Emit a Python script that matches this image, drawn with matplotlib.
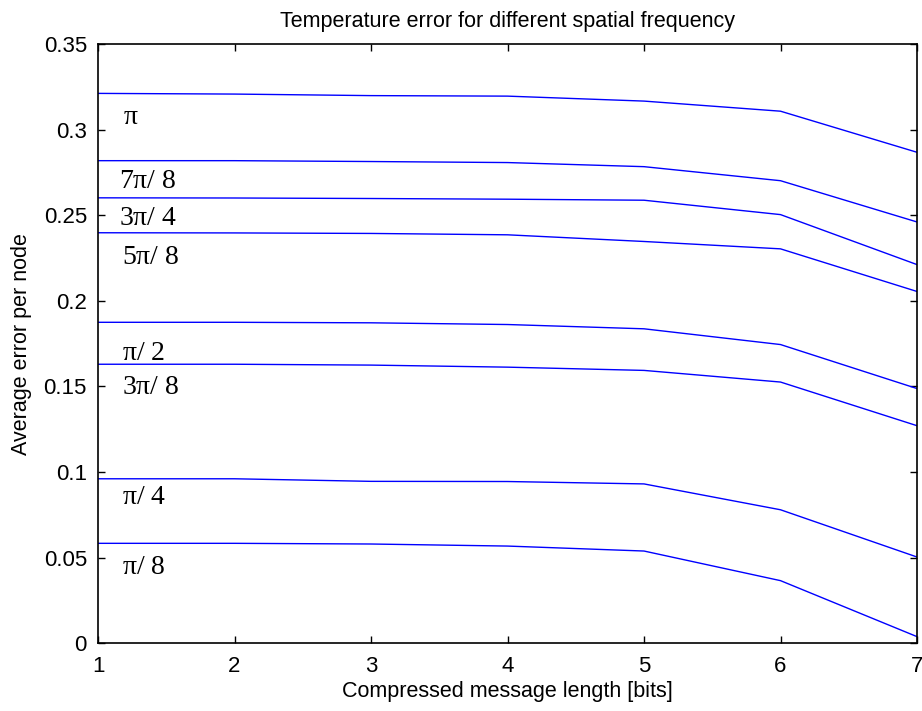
import matplotlib
matplotlib.use("Agg")
import matplotlib.pyplot as plt

x_bits = [1, 2, 3, 4, 5, 6, 7]

labels = [r"$\pi$", r"7$\pi$/ 8", r"3$\pi$/ 4", r"5$\pi$/ 8",
          r"$\pi$/ 2", r"3$\pi$/ 8", r"$\pi$/ 4", r"$\pi$/ 8"]

err_pi      = [0.3212, 0.3208, 0.3199, 0.3196, 0.3167, 0.3108, 0.2868]
err_7pi_8   = [0.2819, 0.2819, 0.2814, 0.2808, 0.2784, 0.2702, 0.2461]
err_3pi_4   = [0.2602, 0.2601, 0.2598, 0.2594, 0.2588, 0.2504, 0.2212]
err_5pi_8   = [0.2398, 0.2397, 0.2394, 0.2386, 0.2347, 0.2304, 0.2055]
err_pi_2    = [0.1875, 0.1875, 0.1872, 0.1862, 0.1837, 0.1745, 0.1488]
err_3pi_8   = [0.1630, 0.1630, 0.1625, 0.1613, 0.1594, 0.1526, 0.1271]
err_pi_4    = [0.0961, 0.0961, 0.0946, 0.0945, 0.0931, 0.0780, 0.0504]
err_pi_8    = [0.0584, 0.0584, 0.0580, 0.0568, 0.0539, 0.0366, 0.0039]

label_x = [1.18, 1.155, 1.155, 1.175, 1.175, 1.175, 1.175, 1.175]
label_y = [0.307, 0.2696, 0.248, 0.2254, 0.1695, 0.1494, 0.0853, 0.0441]

series = [err_pi, err_7pi_8, err_3pi_4, err_5pi_8, err_pi_2, err_3pi_8, err_pi_4, err_pi_8]

plt.rcParams['font.family'] = ['Liberation Sans', 'DejaVu Sans']
plt.rcParams['mathtext.fontset'] = 'custom'
plt.rcParams['mathtext.rm'] = 'Liberation Serif'
plt.rcParams['mathtext.it'] = 'Liberation Serif'

fig = plt.figure(figsize=(9.22, 7.11), dpi=100)
ax = fig.add_axes([0.1063, 0.0952, 0.8883, 0.8428])

for s in series:
    ax.plot(x_bits, s, color='#0000ff', linewidth=1.0)

for lx, ly, lab in zip(label_x, label_y, labels):
    ax.text(lx, ly, lab, fontsize=20, family='Liberation Serif',
            ha='left', va='center', color='black')

ax.set_xlim(1, 7)
ax.set_ylim(0, 0.35)
ax.set_xticks(x_bits)
ax.set_xticklabels([str(v) for v in x_bits])
yt = [0, 0.05, 0.1, 0.15, 0.2, 0.25, 0.3, 0.35]
ax.set_yticks(yt)
ax.set_yticklabels(['0', '0.05', '0.1', '0.15', '0.2', '0.25', '0.3', '0.35'])
ax.tick_params(direction='in', length=5, width=1, labelsize=16,
               top=True, right=True)
ax.tick_params(axis='y', pad=8)
ax.tick_params(axis='x', pad=9)
for sp in ax.spines.values():
    sp.set_linewidth(1.2)

ax.set_xlabel('Compressed message length [bits]', fontsize=15.5, labelpad=3)
ax.set_ylabel('Average error per node', fontsize=15.5, labelpad=8)
ax.set_title('Temperature error for different spatial frequency', fontsize=15.5, pad=12)

fig.savefig('out.png', dpi=100)
